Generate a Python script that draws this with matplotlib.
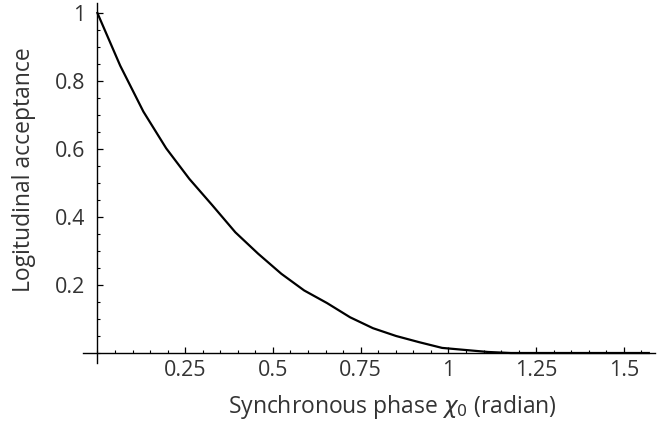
import matplotlib
matplotlib.use("Agg")
import matplotlib.pyplot as plt
from matplotlib.ticker import MultipleLocator, FixedLocator

# synchronous phase samples (radian) and longitudinal acceptance
fase = [0.0, 0.065, 0.131, 0.196, 0.262, 0.327, 0.393, 0.458, 0.524,
        0.589, 0.654, 0.720, 0.785, 0.851, 0.916, 0.982, 1.047, 1.113,
        1.178, 1.243, 1.309, 1.374, 1.440, 1.505, 1.571]
aceptancia = [1.0, 0.845, 0.71, 0.602, 0.512, 0.435, 0.355, 0.292, 0.233,
              0.184, 0.147, 0.105, 0.073, 0.050, 0.032, 0.015, 0.009, 0.003,
              0.0, 0.0, 0.0, 0.0, 0.0, 0.0, 0.0]

x_ticks = [0.25, 0.5, 0.75, 1.0, 1.25, 1.5]
x_labels = ["0.25", "0.5", "0.75", "1", "1.25", "1.5"]
y_ticks = [0.2, 0.4, 0.6, 0.8, 1.0]
y_labels = ["0.2", "0.4", "0.6", "0.8", "1"]

plt.rcParams['font.family'] = ['Open Sans', 'DejaVu Sans']
gris = '#333333'

W, H = 657, 429
fig = plt.figure(figsize=(W / 100, H / 100), dpi=100)

x0, xs = 97.4, 351.0   # pixel of x=0, pixels per unit
y0, ys = 353.0, 340.0
xmin, xmax = -0.04, 1.59
ymin, ymax = -0.03, 1.03
left = (x0 + xmin * xs) / W
right = (x0 + xmax * xs) / W
bottom = 1 - (y0 - ymin * ys) / H
top = 1 - (y0 - ymax * ys) / H
ax = fig.add_axes([left, bottom, right - left, top - bottom])

ax.plot(fase, aceptancia, color='black', lw=1.6, solid_joinstyle='miter')

ax.set_xlim(xmin, xmax)
ax.set_ylim(ymin, ymax)

for s in ['top', 'right']:
    ax.spines[s].set_visible(False)
ax.spines['left'].set_position(('data', 0))
ax.spines['bottom'].set_position(('data', 0))
ax.spines['left'].set_bounds(ymin, ymax)
ax.spines['bottom'].set_bounds(xmin, xmax)
for s in ['left', 'bottom']:
    ax.spines[s].set_linewidth(1.0)
    ax.spines[s].set_color('black')

ax.xaxis.set_major_locator(FixedLocator(x_ticks))
ax.set_xticklabels(x_labels)
ax.xaxis.set_minor_locator(MultipleLocator(0.05))
ax.yaxis.set_major_locator(FixedLocator(y_ticks))
ax.set_yticklabels(y_labels)
ax.yaxis.set_minor_locator(MultipleLocator(0.05))

ax.tick_params(which='major', direction='in', length=4, width=0.9,
               labelsize=15.5, labelcolor=gris, color='black')
ax.tick_params(which='minor', direction='in', length=2.5, width=0.8, color='black')
ax.tick_params(axis='x', which='major', pad=5)
ax.tick_params(axis='y', which='major', pad=9)

fig.text(392 / W, 1 - 407 / H, r"Synchronous phase $\chi_0$ (radian)",
         ha='center', va='center', fontsize=16.5, color=gris)
fig.text(24 / W, 1 - 170 / H, "Logitudinal acceptance", rotation=90,
         ha='center', va='center', fontsize=16.5, color=gris)

fig.savefig("out.png", dpi=100)
